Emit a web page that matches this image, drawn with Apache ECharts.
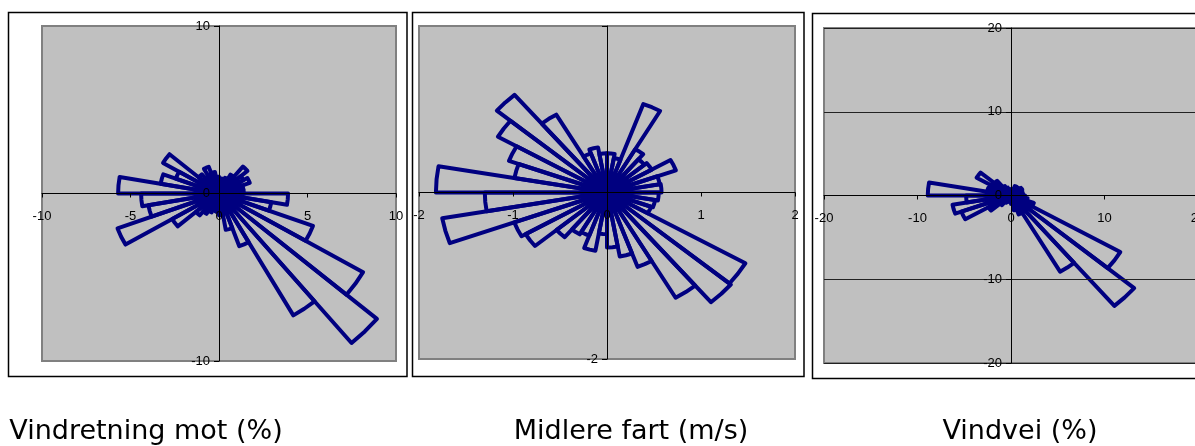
<!DOCTYPE html>
<html>
<head>
<meta charset="utf-8">
<script src="https://cdn.jsdelivr.net/npm/echarts@6/dist/echarts.min.js"></script>
<style>
html,body{margin:0;padding:0;background:#fff;}
#c{width:1195px;height:446px;}
</style>
</head>
<body>
<div id="c"></div>
<script>
// Sector start angles (degrees, counter-clockwise from east), each sector is 10 degrees wide
const sectorFrom = [0,10,20,30,40,50,60,70,80,90,100,110,120,130,140,150,160,170,
                    180,190,200,210,220,230,240,250,260,270,280,290,300,310,320,330,340,350];
const sectorWidth = 10;

// Panel 1: Vindretning mot (%)
const vindretning = [1.4,1.4,1.85,1.6,2.1,1.3,1.0,0.9,0.9,1.0,1.3,1.7,1.2,1.5,3.65,2.6,3.35,5.7,
                     4.4,4.05,6.1,3.05,1.7,1.4,1.2,1.0,1.1,1.3,2.2,3.35,8.4,11.65,9.4,5.65,3.0,3.9];
// Panel 2: Midlere fart (m/s)
const midlereFart = [0.58,0.57,0.78,0.55,0.52,0.6,1.13,0.42,0.47,0.47,0.55,0.5,1.08,1.53,1.34,1.11,1.0,1.82,
                     1.3,1.78,1.05,1.0,0.7,0.58,0.55,0.71,0.5,0.66,0.78,0.95,1.46,1.72,1.7,0.5,0.52,0.55];
// Panel 3: Vindvei (%)
const vindvei = [1.3,1.2,1.3,1.4,1.2,1.0,1.2,0.8,0.7,0.7,0.8,1.0,1.3,2.3,4.25,2.5,2.6,8.9,
                 4.8,6.35,5.65,2.8,1.5,1.0,0.8,0.7,0.8,1.0,1.8,2.4,10.5,17.2,13.5,2.6,1.8,1.5];

const panelTitles = ['Vindretning mot (%)', 'Midlere fart (m/s)', 'Vindvei (%)'];
// axis ranges / tick steps per panel
const axisMax = [10, 2, 20];
const xStep = [5, 1, 10];
const yStep = [10, 2, 10];

const chart = echarts.init(document.getElementById('c'), null, {renderer: 'canvas'});

const grids = [
  {left: 42, top: 26, width: 354, height: 335},
  {left: 419, top: 26, width: 376, height: 333},
  {left: 824, top: 28, width: 374, height: 335}
];

const labelFont = {color: '#000', fontSize: 13, fontFamily: 'Liberation Sans, Arial, sans-serif'};

function wedge(params, api) {
  const a0 = api.value(0);
  const r = api.value(1);
  const pts = [api.coord([0, 0])];
  [a0, a0 + sectorWidth / 2, a0 + sectorWidth].forEach(function (a) {
    const t = a * Math.PI / 180;
    pts.push(api.coord([r * Math.cos(t), r * Math.sin(t)]));
  });
  return {
    type: 'polygon',
    shape: {points: pts},
    style: {fill: 'transparent', stroke: '#000080', lineWidth: 4, lineJoin: 'round'}
  };
}

const seriesData = [vindretning, midlereFart, vindvei];

const option = {
  animation: false,
  backgroundColor: '#fff',
  grid: grids.map(function (g) {
    return Object.assign({show: true, backgroundColor: '#C0C0C0', borderColor: '#808080',
      borderWidth: 2, containLabel: false, outerBoundsMode: 'none'}, g);
  }),
  xAxis: [0, 1, 2].map(function (i) {
    return {
      gridIndex: i, type: 'value', min: -axisMax[i], max: axisMax[i], interval: xStep[i], z: 5,
      position: 'bottom', offset: -grids[i].height / 2,
      axisLine: {show: true, onZero: false, lineStyle: {color: '#000', width: 1}},
      axisTick: {show: true, length: 4, lineStyle: {color: '#000'}},
      axisLabel: Object.assign({margin: 16}, labelFont),
      splitLine: {show: false}
    };
  }),
  yAxis: [0, 1, 2].map(function (i) {
    return {
      gridIndex: i, type: 'value', min: -axisMax[i], max: axisMax[i], interval: yStep[i], z: 5,
      position: 'left', offset: -grids[i].width / 2,
      axisLine: {show: true, onZero: false, lineStyle: {color: '#000', width: 1}},
      axisTick: {show: true, length: 5, lineStyle: {color: '#000'}},
      axisLabel: Object.assign({margin: 9,
        formatter: i === 1 ? function (v) { return v === -2 ? '-2' : ''; } : '{value}'}, labelFont),
      splitLine: {show: i === 2, lineStyle: {color: '#222', width: 1}}
    };
  }),
  series: seriesData.map(function (vals, i) {
    return {
      type: 'custom',
      xAxisIndex: i, yAxisIndex: i,
      renderItem: wedge,
      clip: false,
      z: 2,
      data: sectorFrom.map(function (a, k) { return [a, vals[k]]; })
    };
  }),
  graphic: [
    {type: 'rect', shape: {x: 8.5, y: 12.5, width: 398.5, height: 364}, style: {fill: 'transparent', stroke: '#000', lineWidth: 1.5}},
    {type: 'rect', shape: {x: 412.5, y: 12.5, width: 391.5, height: 364}, style: {fill: 'transparent', stroke: '#000', lineWidth: 1.5}},
    {type: 'rect', shape: {x: 812.5, y: 13.5, width: 400, height: 365}, style: {fill: 'transparent', stroke: '#000', lineWidth: 1.5}},
    {type: 'text', x: 146, y: 432, style: {text: panelTitles[0], fill: '#000', font: '27px "DejaVu Sans"', align: 'center', verticalAlign: 'middle'}},
    {type: 'text', x: 631, y: 432, style: {text: panelTitles[1], fill: '#000', font: '27px "DejaVu Sans"', align: 'center', verticalAlign: 'middle'}},
    {type: 'text', x: 1020, y: 432, style: {text: panelTitles[2], fill: '#000', font: '27px "DejaVu Sans"', align: 'center', verticalAlign: 'middle'}}
  ]
};

chart.setOption(option);
</script>
</body>
</html>
